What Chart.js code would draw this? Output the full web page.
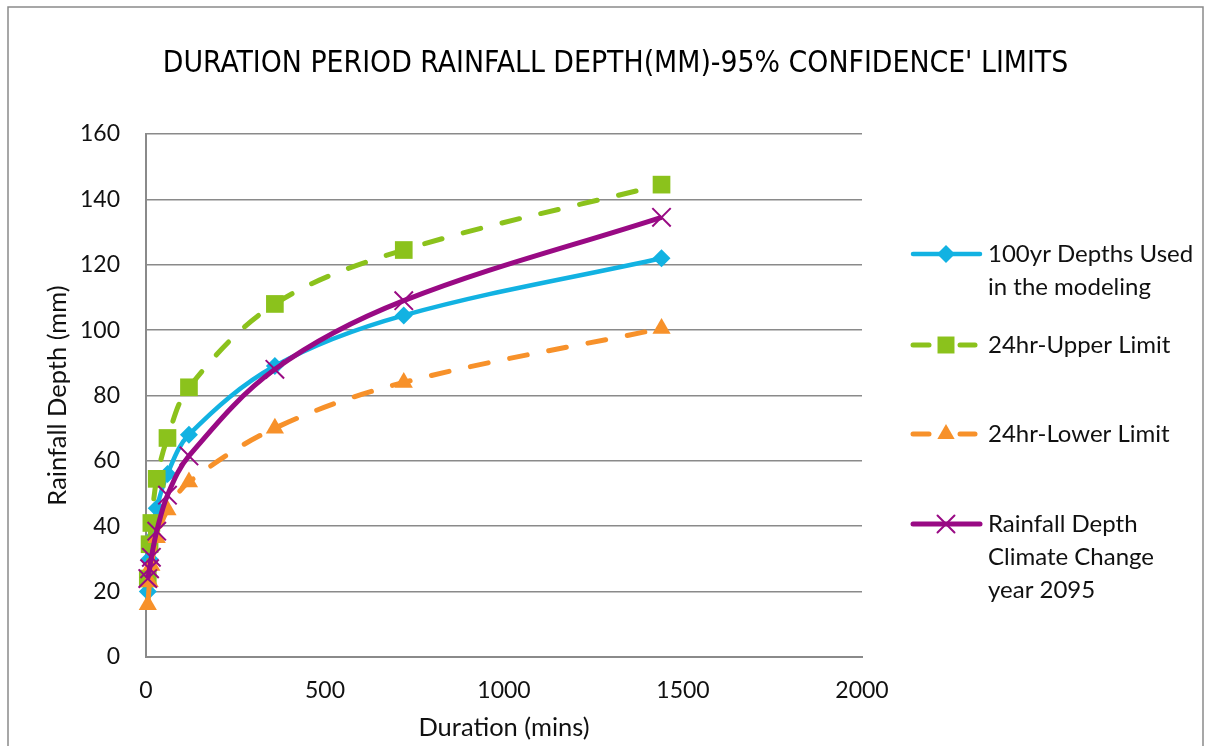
<!DOCTYPE html>
<html>
<head>
<meta charset="utf-8">
<style>
  html, body { margin: 0; padding: 0; background: #fff; }
  #wrap { position: relative; width: 1205px; height: 746px; }
</style>
</head>
<body>
<div id="wrap">
  <canvas id="myChart" width="1205" height="746"></canvas>
</div>

<script src="https://cdn.jsdelivr.net/npm/chart.js@4.4.1/dist/chart.umd.min.js"></script>

<script>
    // durations in minutes
    const durations = [5, 10, 15, 30, 60, 120, 360, 720, 1440];
    // rainfall depth (mm)
    const depth100yr = [20, 30, 36, 45.5, 56, 68, 89, 104.5, 122];
    const upperLimit = [24, 34.5, 41, 54.5, 67, 82.5, 108, 124.5, 144.5];
    const lowerLimit = [16, 23, 28, 36.5, 45, 53.5, 70, 84, 100.5];
    const climate2095 = [24, 27, 30.5, 38.5, 49.5, 61.5, 88, 109, 134.5];

    const seriesNames = [
        ['100yr Depths Used', 'in the modeling'],
        ['24hr-Upper Limit'],
        ['24hr-Lower Limit'],
        ['Rainfall Depth', 'Climate Change', 'year 2095']
    ];
    const xTicks = [0, 500, 1000, 1500, 2000];
    const yTicks = [0, 20, 40, 60, 80, 100, 120, 140, 160];

    const chartTitle = "DURATION PERIOD RAINFALL DEPTH(MM)-95% CONFIDENCE' LIMITS";

    const colBlue = '#12B2E2';
    const colGreen = '#8BC21C';
    const colOrange = '#F7912A';
    const colPurple = '#990A84';
    const gridCol = '#8a8a8a';

    function pts(arr) {
        return durations.map((d, i) => ({ x: d, y: arr[i] }));
    }

    // legend row centres (px)
    const legendRows = [254, 345, 434, 524];

    const frame = {
        id: 'frame',
        beforeDraw(chart) {
            const ctx = chart.ctx;
            ctx.save();
            ctx.fillStyle = '#fff';
            ctx.fillRect(0, 0, chart.width, chart.height);
            ctx.strokeStyle = gridCol;
            ctx.lineWidth = 1.5;
            ctx.strokeRect(8, 7, 1195, 760);
            ctx.restore();
        }
    };

    const sideLegend = {
        id: 'sideLegend',
        afterDraw(chart) {
            const ctx = chart.ctx;
            ctx.save();
            chart.data.datasets.forEach((ds, i) => {
                const y = legendRows[i];
                ctx.save();
                ctx.strokeStyle = ds.borderColor;
                ctx.lineWidth = ds.borderWidth;
                ctx.lineCap = 'round';
                if (ds.borderDash) {
                    ctx.beginPath(); ctx.moveTo(913, y); ctx.lineTo(929, y); ctx.stroke();
                    ctx.beginPath(); ctx.moveTo(960, y); ctx.lineTo(975, y); ctx.stroke();
                } else {
                    ctx.beginPath(); ctx.moveTo(913, y); ctx.lineTo(980, y); ctx.stroke();
                }
                ctx.fillStyle = ds.pointBackgroundColor;
                ctx.strokeStyle = ds.pointBorderColor;
                ctx.lineWidth = ds.pointBorderWidth;
                Chart.helpers.drawPoint(ctx, {
                    pointStyle: ds.pointStyle,
                    radius: ds.legendRadius,
                    rotation: 0,
                    borderWidth: ds.pointBorderWidth
                }, 946, y);
                ctx.restore();

                ctx.fillStyle = '#111';
                ctx.font = '24px Lato';
                ctx.textBaseline = 'middle';
                ctx.textAlign = 'left';
                seriesNames[i].forEach((t, k) => {
                    ctx.fillText(t, 988, y + k * 33);
                });
            });
            ctx.restore();
        }
    };

    Chart.defaults.font.family = 'Lato';
    Chart.defaults.color = '#111';

    const ctx = document.getElementById('myChart').getContext('2d');
    const myChart = new Chart(ctx, {
        type: 'line',
        data: {
            datasets: [{
                label: seriesNames[0].join(' '),
                data: pts(depth100yr),
                borderColor: colBlue,
                borderWidth: 4.5,
                pointStyle: 'rectRot',
                pointRadius: 9,
                legendRadius: 9,
                pointBackgroundColor: colBlue,
                pointBorderColor: colBlue,
                pointBorderWidth: 0,
                order: 4
            }, {
                label: seriesNames[1].join(' '),
                data: pts(upperLimit),
                borderColor: colGreen,
                borderWidth: 5,
                borderDash: [18, 22],
                borderCapStyle: 'round',
                pointStyle: 'rect',
                pointRadius: 12.5,
                legendRadius: 12,
                pointBackgroundColor: colGreen,
                pointBorderColor: colGreen,
                pointBorderWidth: 0,
                order: 3
            }, {
                label: seriesNames[2].join(' '),
                data: pts(lowerLimit),
                borderColor: colOrange,
                borderWidth: 5,
                borderDash: [18, 22],
                borderCapStyle: 'round',
                pointStyle: 'triangle',
                pointRadius: 10.5,
                legendRadius: 10,
                pointBackgroundColor: colOrange,
                pointBorderColor: colOrange,
                pointBorderWidth: 0,
                order: 2
            }, {
                label: seriesNames[3].join(' '),
                data: pts(climate2095),
                borderColor: colPurple,
                borderWidth: 5,
                pointStyle: 'crossRot',
                pointRadius: 13,
                legendRadius: 12,
                pointBackgroundColor: colPurple,
                pointBorderColor: colPurple,
                pointBorderWidth: 2,
                order: 1
            }]
        },
        options: {
            responsive: false,
            animation: false,
            datasets: { line: { tension: 0.35, clip: false } },
            layout: { padding: { left: 26, right: 0, top: 0, bottom: 0 } },
            plugins: {
                legend: { display: false },
                tooltip: { enabled: false },
                title: {
                    display: true,
                    text: chartTitle,
                    color: '#000',
                    font: { family: "'Liberation Sans Narrow', 'DejaVu Sans Condensed', Lato", size: 29.8, weight: 'normal', lineHeight: 1.2 },
                    padding: { top: 46, bottom: 52.2 }
                }
            },
            scales: {
                x: {
                    type: 'linear',
                    min: 0,
                    max: 2000,
                    afterBuildTicks: s => { s.ticks = xTicks.map(v => ({ value: v })); },
                    grid: { display: false, drawTicks: false },
                    border: { display: true, color: gridCol, width: 2 },
                    ticks: { padding: 20, font: { size: 23 }, color: '#111', callback: v => String(v) },
                    title: { display: true, text: 'Duration (mins)', font: { size: 25.5 }, color: '#111', padding: { top: 0, bottom: 3 } },
                    afterFit: s => { s.height = 89; }
                },
                y: {
                    min: 0,
                    max: 160,
                    afterBuildTicks: s => { s.ticks = yTicks.map(v => ({ value: v })); },
                    grid: { color: gridCol, lineWidth: 1.5, drawTicks: false },
                    border: { display: true, color: gridCol, width: 2 },
                    ticks: { padding: 26, font: { size: 23 }, color: '#111', callback: v => String(v) },
                    title: { display: true, text: 'Rainfall Depth (mm)', font: { size: 25.5 }, color: '#111', padding: { top: 16, bottom: 0 } },
                    afterFit: s => { s.width = 120; }
                },
                ySpace: {
                    position: 'right',
                    display: true,
                    grid: { display: false, drawTicks: false },
                    border: { display: false },
                    ticks: { display: false },
                    afterFit: s => { s.width = 343; }
                }
            }
        },
        plugins: [frame, sideLegend]
    });
</script>
</body>
</html>
